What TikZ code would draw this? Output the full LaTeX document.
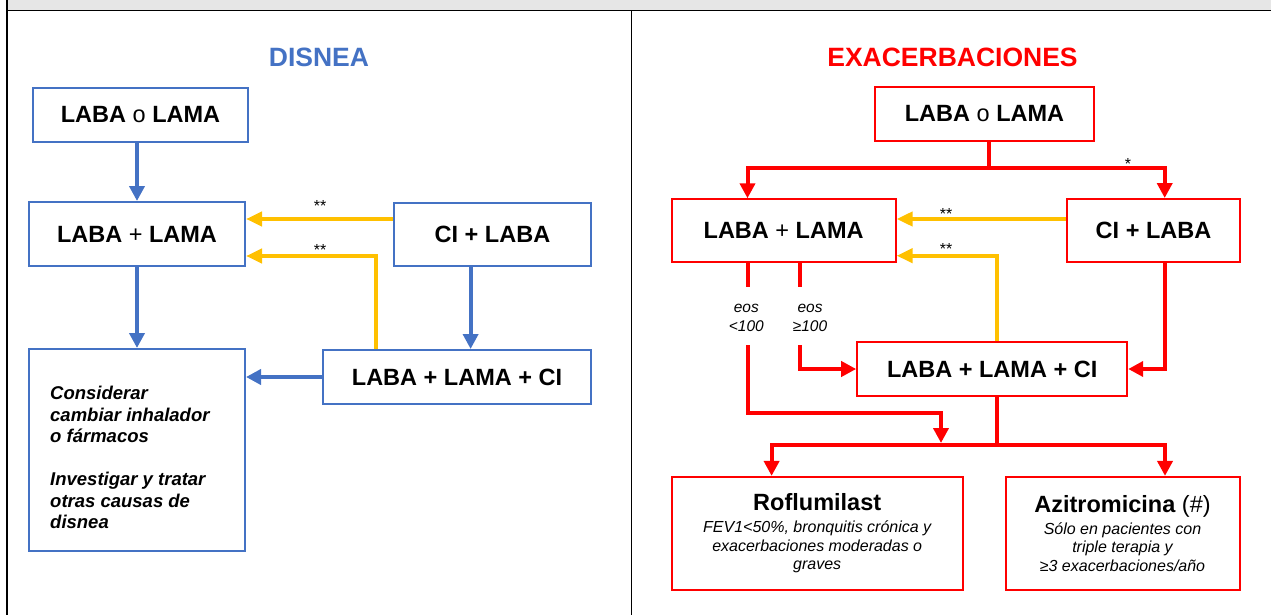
\documentclass[tikz,border=0pt]{standalone}
\usepackage{fontspec}
\setmainfont{Liberation Sans}
\usetikzlibrary{arrows.meta}
\definecolor{cblue}{HTML}{4472C4}
\definecolor{cred}{HTML}{FF0000}
\definecolor{cyel}{HTML}{FFC000}
\definecolor{cband}{HTML}{E6E6E6}
\begin{document}
\begin{tikzpicture}[x=1pt,y=-1pt,
  box/.style={draw, line width=2pt, inner sep=0pt, align=center,
    font=\fontsize{23.5}{27}\selectfont\bfseries},
  bbox/.style={box, draw=cblue},
  rbox/.style={box, draw=cred},
  conn/.style={line width=4pt, -{Triangle[length=15pt,width=15pt]}},
  barr/.style={conn, draw=cblue},
  rarr/.style={conn, draw=cred},
  rseg/.style={line width=4pt, draw=cred},
  yarr/.style={conn, draw=cyel, -{Triangle[length=16pt,width=14pt]}},
  star/.style={font=\fontsize{16}{18}\selectfont, inner sep=0pt},
  eos/.style={font=\fontsize{15.5}{19}\selectfont\itshape, inner sep=0pt, align=center},
  ttl/.style={font=\fontsize{26.5}{30}\selectfont\bfseries, inner sep=0pt},
  frame/.style={line width=1.5pt, draw=black}
]
\useasboundingbox (0,0) rectangle (1271,615);
% frame
\fill[cband] (7,0) rectangle (1271,10);
\draw[frame] (7,0) -- (7,615);
\draw[frame] (7,10.5) -- (1271,10.5);
\draw[frame] (631.7,10.5) -- (631.7,615);

% ---------------- left panel: DISNEA
\node[ttl, text=cblue] (tD) at (319,57) {DISNEA};
\node[bbox, minimum width=215pt, minimum height=54pt] (lA) at (140.5,115) {LABA {\mdseries o} LAMA};
\node[bbox, minimum width=216pt, minimum height=64pt] (lB) at (137,234) {LABA {\mdseries +} LAMA};
\node[bbox, minimum width=197pt, minimum height=63pt] (lC) at (492.5,234.5) {CI + LABA};
\node[bbox, minimum width=268pt, minimum height=54pt] (lD) at (457,377) {LABA + LAMA + CI};
\node[bbox, minimum width=216pt, minimum height=202pt] (lE) at (137,450) {};
\node[font=\fontsize{18.5}{21.5}\selectfont\bfseries\itshape, anchor=north west,
      inner sep=0pt, align=left] (lEt) at (50,386)
  {Considerar\\ cambiar inhalador\\ o fármacos\\[21.5pt] Investigar y tratar\\ otras causas de\\ disnea};

\coordinate (lxc) at (470.6,0);
\coordinate (ly1) at (400,219);
\coordinate (ly2) at (375.5,256);
\draw[barr] (lA.south -| lB.north) -- (lB.north);
\draw[barr] (lB.south) -- (lE.north);
\draw[barr] (lC.south -| lxc) -- (lD.north -| lxc);
\draw[barr] (lD.west) -- (lE.east |- lD.west);
\draw[yarr] (lC.west |- ly1) -- (lB.east |- ly1);
\draw[yarr] (ly2 |- lD.north) -- (ly2) -- (lB.east |- ly2);
\node[star] (ls1) at (320,206) {**};
\node[star] (ls2) at (320,249.5) {**};

% ---------------- right panel: EXACERBACIONES
\node[ttl, text=cred] (tE) at (952.5,57) {EXACERBACIONES};
\node[rbox, minimum width=219pt, minimum height=54pt] (rA) at (984.5,114) {LABA {\mdseries o} LAMA};
\node[rbox, minimum width=224pt, minimum height=63pt] (rB) at (783.6,230.8) {LABA {\mdseries +} LAMA};
\node[rbox, minimum width=173pt, minimum height=63pt] (rC) at (1153.5,230.5) {CI + LABA};
\node[rbox, minimum width=270pt, minimum height=54pt] (rD) at (992.2,369) {LABA + LAMA + CI};
\node[rbox, minimum width=291pt, minimum height=113pt,
      font=\fontsize{16}{18.3}\selectfont\itshape] (rF) at (817.2,533.4)
  {{\fontsize{23.5}{26}\selectfont\bfseries\upshape Roflumilast}\\[3.7pt]
   FEV1<50\%, bronquitis crónica y\\ exacerbaciones moderadas o\\ graves};
\node[rbox, minimum width=234pt, minimum height=113pt,
      font=\fontsize{16}{18.3}\selectfont\itshape] (rG) at (1122.5,533.4)
  {{\fontsize{23.5}{26}\selectfont\upshape{\bfseries Azitromicina} (\#)}\\[3.7pt]
   Sólo en pacientes con\\ triple terapia y\\ ≥3 exacerbaciones/año};

\coordinate (rj1) at (989,168);
\coordinate (rxa) at (747.5,168);
\coordinate (rxb) at (1164.7,168);
\draw[rseg] (rA.south -| rj1) -- (rj1);
\draw[rarr] (rj1) -- (rxa) -- (rxa |- rB.north);
\draw[rarr] (rj1) -- (rxb) -- (rxb |- rC.north);
\node[star] (rs0) at (1128,163.5) {*};

\coordinate (ry1) at (1000,219);
\coordinate (ry2) at (997,255.7);
\draw[yarr] (rC.west |- ry1) -- (rB.east |- ry1);
\draw[yarr] (ry2 |- rD.north) -- (ry2) -- (rB.east |- ry2);
\node[star] (rs1) at (946,213.5) {**};
\node[star] (rs2) at (946,248.5) {**};

% eos branches
\coordinate (re1) at (747.5,287);
\coordinate (re2) at (799.8,287);
\draw[rseg] (re1 |- rB.south) -- (re1);
\draw[rseg] (re2 |- rB.south) -- (re2);
\node[eos] (rl1) at (746.3,318) {eos\\<100};
\node[eos] (rl2) at (810,318) {eos\\≥100};
\coordinate (rs1b) at (747.5,345);
\coordinate (rk) at (941,413.3);
\coordinate (rtip) at (941,443);
\draw[rarr] (rs1b) |- (rk) -- (rtip);
\coordinate (rs2b) at (799.8,345);
\draw[rarr] (rs2b) |- (rD.west);
\draw[rarr] (rxb |- rC.south) |- (rD.east);

% bottom branch
\coordinate (rj2) at (997,445);
\coordinate (rfa) at (771.6,445);
\coordinate (rfb) at (1165,445);
\draw[rseg] (rj2 |- rD.south) -- (rj2);
\draw[rarr] (rj2) -- (rfa) -- (rfa |- rF.north);
\draw[rarr] (rj2) -- (rfb) -- (rfb |- rG.north);
\end{tikzpicture}
\end{document}
